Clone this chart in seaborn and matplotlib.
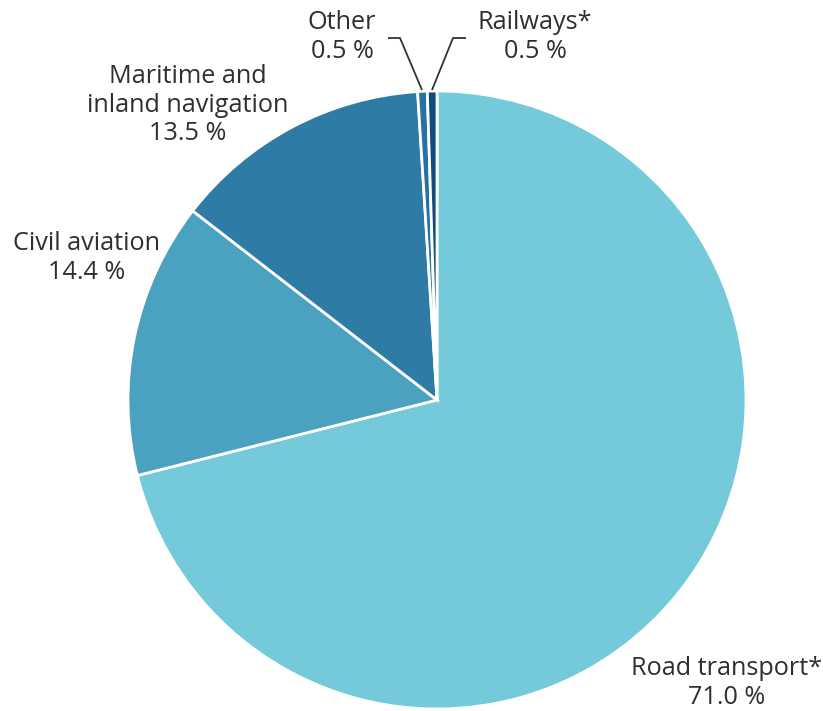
import matplotlib
matplotlib.use("Agg")
import matplotlib.pyplot as plt
import seaborn as sns

# Share of transport emissions by mode
categories = ["Road transport*", "Civil aviation", "Maritime and\ninland navigation", "Other", "Railways*"]
shares = [71.0, 14.4, 13.5, 0.5, 0.5]
colors = ["#74C9DB", "#4AA2C0", "#2E7BA5", "#2672A3", "#0C4D80"]

sns.set_theme(style="white")
plt.rcParams["font.family"] = ["Open Sans", "DejaVu Sans"]

W, H = 823, 711
fig = plt.figure(figsize=(W / 100, H / 100), dpi=100)
ax = fig.add_axes([0, 0, 1, 1])

cx, cy, r = 437, H - 400, 309
ax.pie(shares, colors=colors, startangle=90, counterclock=False,
       radius=r, center=(cx, cy), frame=True,
       wedgeprops=dict(edgecolor="white", linewidth=2))
ax.set_xlim(0, W)
ax.set_ylim(0, H)
ax.set_aspect("equal")
ax.axis("off")

# label anchor positions (pixel-based layout, y measured from top)
label_pos = {
    "Road transport*": (727, 683),
    "Civil aviation": (87, 258),
    "Maritime and\ninland navigation": (188, 105),
    "Other": (342, 37),
    "Railways*": (535, 37),
}
txt_color = "#2f2f2f"
for cat, val in zip(categories, shares):
    x, y = label_pos[cat]
    ax.text(x, H - y, f"{cat}\n{val:.1f} %", ha="center", va="center",
            fontsize=18.2, color=txt_color, linespacing=1.2)

# leader lines for the two thin wedges
ax.plot([388, 400, 422], [H - 38, H - 38, H - 90], color="#333333", lw=1.3,
        solid_capstyle="butt")
ax.plot([466, 453, 432], [H - 38, H - 38, H - 90], color="#333333", lw=1.3,
        solid_capstyle="butt")

fig.savefig("out.png", dpi=100, facecolor="white")
